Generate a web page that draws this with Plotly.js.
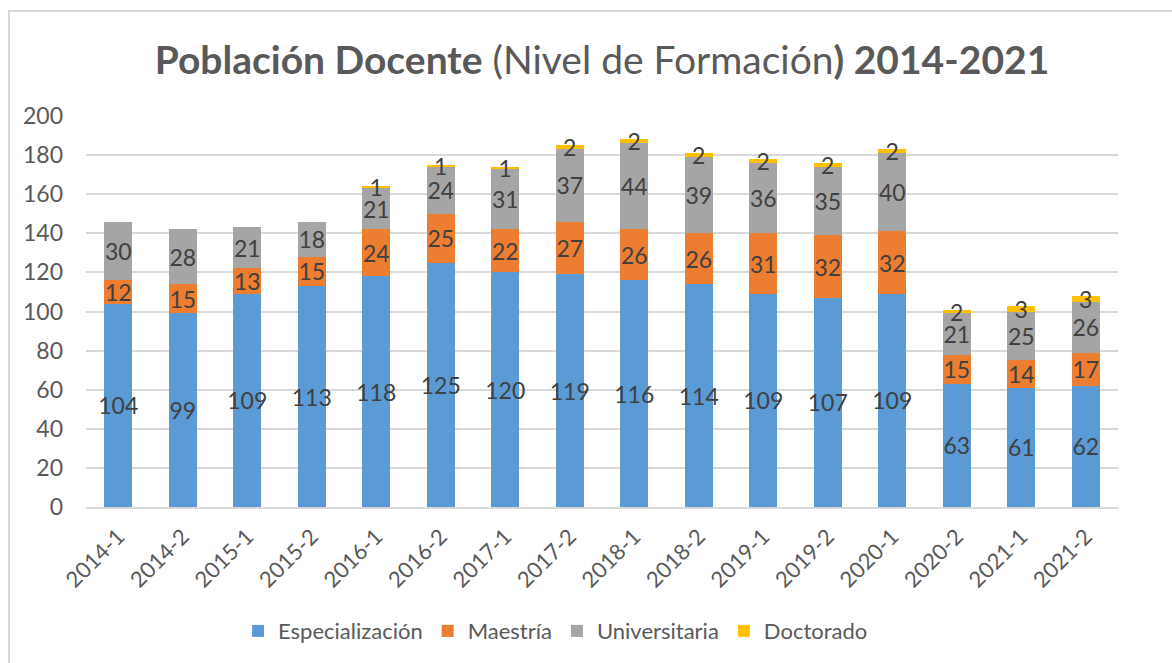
<!DOCTYPE html>
<html>
<head>
<meta charset="utf-8">
<script src="https://cdn.plot.ly/plotly-3.0.1.min.js"></script>
<style>
  html, body { margin: 0; padding: 0; background: #ffffff; }
  #wrap { position: relative; width: 1172px; height: 663px; overflow: hidden; }
  #chart { position: absolute; left: 0; top: 0; width: 1172px; height: 663px; }
  #frame { position: absolute; left: 8px; top: 10px; width: 1200px; height: 700px;
           border-left: 2px solid #d9d9d9; border-top: 2px solid #d9d9d9; pointer-events: none; }
</style>
</head>
<body>
<div id="wrap">
  <div id="chart"></div>
  <div id="frame"></div>
</div>
<script>
const categories = ["2014-1","2014-2","2015-1","2015-2","2016-1","2016-2","2017-1","2017-2",
                    "2018-1","2018-2","2019-1","2019-2","2020-1","2020-2","2021-1","2021-2"];
const especializacion = [104, 99, 109, 113, 118, 125, 120, 119, 116, 114, 109, 107, 109, 63, 61, 62];
const maestria        = [12, 15, 13, 15, 24, 25, 22, 27, 26, 26, 31, 32, 32, 15, 14, 17];
const universitaria   = [30, 28, 21, 18, 21, 24, 31, 37, 44, 39, 36, 35, 40, 21, 25, 26];
const doctorado       = [null, null, null, null, 1, 1, 1, 2, 2, 2, 2, 2, 2, 2, 3, 3];
const yTicks = [0, 20, 40, 60, 80, 100, 120, 140, 160, 180, 200];

const FONT = "Lato, 'Open Sans', sans-serif";
const labelFont = {family: FONT, size: 23, color: "#404040"};

function mk(name, vals, color) {
  return {
    type: "bar", name: name, x: categories, y: vals,
    text: vals.map(v => v == null ? "" : String(v)),
    textposition: "inside", insidetextanchor: "middle", textangle: 0,
    constraintext: "none", cliponaxis: false,
    insidetextfont: labelFont, textfont: labelFont,
    marker: {color: color, line: {width: 0}},
    hoverinfo: "x+y+name"
  };
}

const data = [
  mk("Especialización", especializacion, "#5b9bd5"),
  mk("Maestría", maestria, "#ed7d31"),
  mk("Universitaria", universitaria, "#a5a5a5"),
  mk("Doctorado", doctorado, "#ffc000")
];

const layout = {
  width: 1172, height: 663,
  margin: {l: 86, r: 54, t: 116, b: 155},
  paper_bgcolor: "rgba(0,0,0,0)", plot_bgcolor: "#ffffff",
  barmode: "stack", bargap: 0.56,
  font: {family: FONT, color: "#595959"},
  title: {
    text: "<b>Población Docente</b> (Nivel de Formación<b>) 2014-2021</b>",
    font: {family: FONT, size: 39, color: "#595959"},
    x: 0.5, xref: "paper", xanchor: "center",
    y: 1 - 60/663, yref: "container", yanchor: "middle"
  },
  xaxis: {
    type: "category", tickangle: -45,
    tickfont: {family: FONT, size: 22, color: "#595959"},
    showline: true, linecolor: "#d9d9d9", linewidth: 2,
    showgrid: false, ticks: "", ticklen: 0, ticklabelstandoff: 6
  },
  yaxis: {
    range: [0, 200], tickvals: yTicks, ticktext: yTicks.map(String),
    tickfont: {family: FONT, size: 23, color: "#595959"},
    showgrid: true, gridcolor: "#d9d9d9", gridwidth: 2,
    zeroline: false, showline: false, ticks: "", ticklabelstandoff: 22
  },
  showlegend: true,
  legend: {
    orientation: "h", x: 0.455, xanchor: "center", y: -0.314, yanchor: "middle",
    font: {family: FONT, size: 22, color: "#595959"},
    traceorder: "normal", itemwidth: 30
  }
};

Plotly.newPlot("chart", data, layout, {displayModeBar: false, staticPlot: true});
</script>
</body>
</html>
